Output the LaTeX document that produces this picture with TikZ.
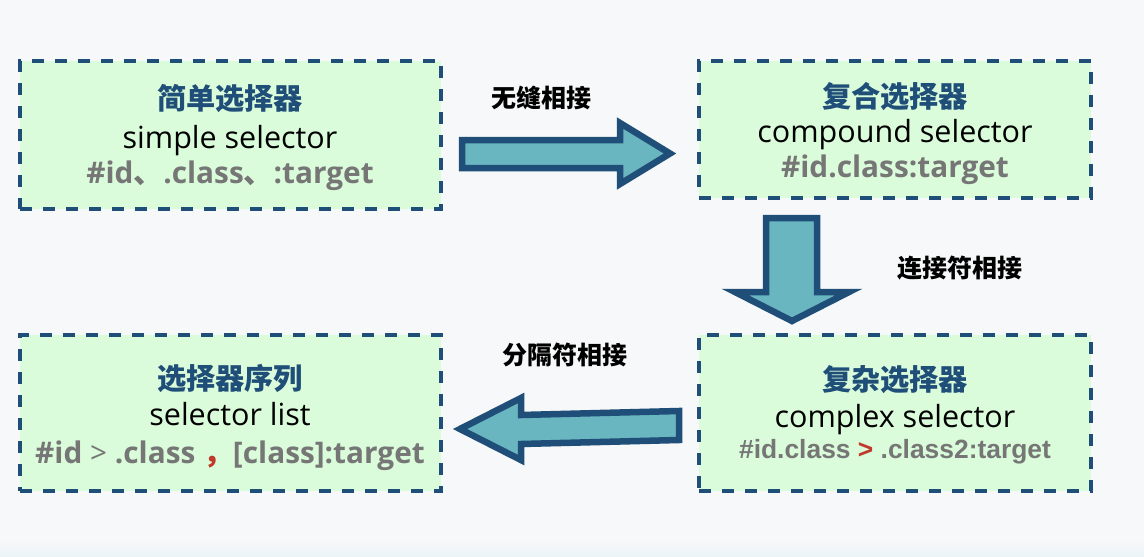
\documentclass[tikz,border=0pt]{standalone}
\usepackage{fontspec}
\setmainfont{Open Sans}
\newfontfamily\cjk{Noto Sans CJK SC}
\newfontfamily\arialb{Liberation Sans}
\definecolor{bg}{HTML}{F7F8F9}
\definecolor{bottomblue}{HTML}{EAF3F7}
\definecolor{boxfill}{HTML}{DAFCDA}
\definecolor{boxborder}{HTML}{1F4E79}
\definecolor{titleblue}{HTML}{1F4E79}
\definecolor{arrowfill}{HTML}{6AB6C0}
\definecolor{codegray}{HTML}{767676}
\definecolor{sepred}{HTML}{C0392B}
\tikzset{
  selbox/.style={rectangle, draw=boxborder, fill=boxfill, line width=4pt, dash pattern=on 12pt off 11pt, inner sep=0pt},
  titletxt/.style={anchor=base, inner sep=0pt, text=titleblue, font=\cjk\bfseries\fontsize{29.2}{31}\selectfont},
  nametxt/.style={anchor=base, inner sep=0pt, text=black, font=\fontsize{30.5}{32}\selectfont},
  codetxt/.style={anchor=base, inner sep=0pt, text=codegray, font=\bfseries\fontsize{29.8}{31}\selectfont},
  joinlbl/.style={anchor=base, inner sep=0pt, text=black, font=\cjk\bfseries\fontsize{25}{27}\selectfont},
  blockarrow/.style={draw=boxborder, fill=arrowfill, line width=6.5pt, line join=miter}
}
\begin{document}
\begin{tikzpicture}[x=1pt, y=-1pt]
\useasboundingbox (0,0) rectangle (1144,557);
\fill[bg] (0,0) rectangle (1144,557);
\shade[top color=bg, bottom color=bottomblue] (0,540) rectangle (1144,557);

% boxes
\node[selbox, minimum width=421pt, minimum height=148pt] (simple) at (230.5,135) {};
\node[selbox, minimum width=392pt, minimum height=137pt] (compound) at (895,129.5) {};
\node[selbox, minimum width=421pt, minimum height=156pt] (list) at (230.5,413) {};
\node[selbox, minimum width=392pt, minimum height=156pt] (complex) at (895,413) {};

% box texts
\node[titletxt] (t1) at (230,109) {简单选择器};
\node[nametxt] (n1) at (230,148) {simple selector};
\node[codetxt] (c1) at (230,183) {\#id{\cjk 、}.class{\cjk 、}:target};

\node[titletxt] (t2) at (895,107) {复合选择器};
\node[nametxt] (n2) at (895,142) {compound selector};
\node[codetxt] (c2) at (895,177) {\#id.class:target};

\node[titletxt] (t3) at (230,389) {选择器序列};
\node[nametxt] (n3) at (230,425) {selector list};
\node[codetxt] (c3) at (230,463) {\#id {\mdseries >} .class {\cjk\color{sepred}，}[class]:target};

\node[titletxt] (t4) at (895,390) {复杂选择器};
\node[nametxt] (n4) at (895,427) {complex selector};
\node[codetxt, font=\arialb\bfseries\fontsize{26.4}{28}\selectfont] (c4) at (895,458) {\#id.class {\color{sepred}>} .class2:target};

% block arrows
\filldraw[blockarrow] (462,140) -- (620,140) -- (620,123) -- (670,153.5) -- (620,184) -- (620,168) -- (462,168) -- cycle;
\filldraw[blockarrow] (766,218) -- (817,218) -- (817,292) -- (849,292) -- (792,321) -- (735,292) -- (766,292) -- cycle;
\filldraw[blockarrow] (460,429) -- (521,398) -- (521,415) -- (679,411) -- (679,440) -- (521,444) -- (521,460) -- cycle;

% join labels
\node[joinlbl] (l1) at (541,107) {无缝相接};
\node[joinlbl] (l2) at (960,277) {连接符相接};
\node[joinlbl] (l3) at (565,364) {分隔符相接};
\end{tikzpicture}
\end{document}
